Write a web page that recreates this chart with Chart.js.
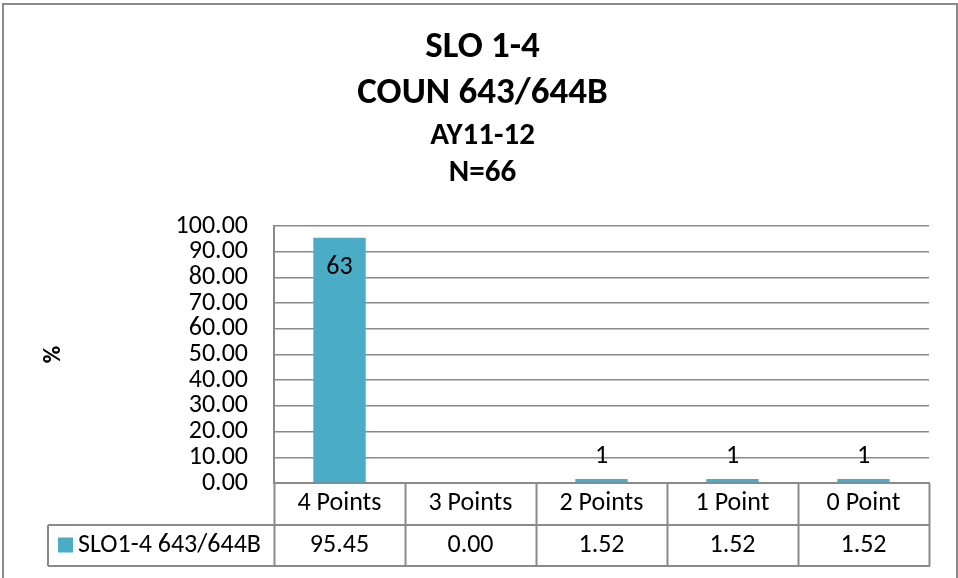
<!DOCTYPE html>
<html>
<head>
<meta charset="utf-8">
<title>SLO 1-4 COUN 643/644B</title>
<script src="https://cdn.jsdelivr.net/npm/chart.js@4.4.1/dist/chart.umd.min.js"></script>
<style>
    html, body { margin: 0; padding: 0; background: #fff; }
    canvas { display: block; }
</style>
</head>
<body>
<canvas id="sloChart" width="958" height="578"></canvas>
<script>
// chart data
const categories = ['4 Points', '3 Points', '2 Points', '1 Point', '0 Point'];
const percents = [95.45, 0.00, 1.52, 1.52, 1.52];
const counts = [63, null, 1, 1, 1];
const seriesName = 'SLO1-4 643/644B';
const titleLines = ['SLO 1-4', 'COUN 643/644B'];
const subtitleLines = ['AY11-12', 'N=66'];
const yTicks = [0, 10, 20, 30, 40, 50, 60, 70, 80, 90, 100];

const FONT = 'Carlito, Calibri, Lato, sans-serif';
const GRAY = '#8a8a8a';
const BAR = '#4bacc6';

// draws the outer frame, the data table row and the count labels
const tablePlugin = {
    id: 'dataTable',
    beforeDraw(chart) {
        const ctx = chart.ctx;
        ctx.save();
        ctx.fillStyle = '#fff';
        ctx.fillRect(0, 0, chart.width, chart.height);
        ctx.strokeStyle = GRAY;
        ctx.lineWidth = 2;
        ctx.strokeRect(3, 4, 954, 620);
        ctx.restore();
    },
    afterDraw(chart) {
        const ctx = chart.ctx;
        const x = chart.scales.x;
        const area = chart.chartArea;
        const rowTop = Math.round(x.top + x.height / 2);
        const rowBottom = Math.round(x.bottom);
        const legendLeft = 48;

        ctx.save();
        ctx.strokeStyle = GRAY;
        ctx.lineWidth = 2;
        ctx.beginPath();
        ctx.moveTo(legendLeft, rowTop);
        ctx.lineTo(x.right + 1, rowTop);
        ctx.moveTo(legendLeft, rowBottom);
        ctx.lineTo(x.right + 1, rowBottom);
        ctx.moveTo(legendLeft, rowTop);
        ctx.lineTo(legendLeft, rowBottom);
        ctx.stroke();

        const midY = (rowTop + rowBottom) / 2;
        // legend key
        ctx.fillStyle = BAR;
        ctx.fillRect(legendLeft + 10, midY - 8, 15, 15);
        ctx.fillStyle = '#000';
        ctx.font = '26px ' + FONT;
        ctx.textBaseline = 'middle';
        ctx.textAlign = 'left';
        ctx.fillText(seriesName, legendLeft + 30, midY);

        // values row
        ctx.textAlign = 'center';
        percents.forEach((v, i) => {
            ctx.fillText(v.toFixed(2), x.getPixelForValue(i), midY);
        });

        // count labels on the bars
        const meta = chart.getDatasetMeta(0);
        meta.data.forEach((bar, i) => {
            if (counts[i] === null) return;
            const inside = bar.y - area.top < 45;
            const y = inside ? bar.y + 30 : bar.y - 23;
            ctx.fillText(String(counts[i]), bar.x, y);
        });
        ctx.restore();
    }
};

const chart = new Chart(document.getElementById('sloChart'), {
    type: 'bar',
    data: {
        labels: categories,
        datasets: [{
            label: seriesName,
            data: percents,
            backgroundColor: BAR,
            barPercentage: 0.4,
            categoryPercentage: 1
        }]
    },
    options: {
        responsive: false,
        animation: false,
        events: [],
        layout: { padding: { top: 0, left: 36, right: 29, bottom: 12 } },
        plugins: {
            legend: { display: false },
            tooltip: { enabled: false },
            title: {
                display: true,
                text: titleLines,
                color: '#000',
                font: { family: FONT, size: 37, weight: 'bold', lineHeight: '46px' },
                padding: { top: 25, bottom: 0 }
            },
            subtitle: {
                display: true,
                text: subtitleLines,
                color: '#000',
                font: { family: FONT, size: 31, weight: 'bold', lineHeight: '37.5px' },
                padding: { top: 0, bottom: 34 }
            }
        },
        scales: {
            x: {
                offset: true,
                grid: {
                    offset: true,
                    drawOnChartArea: false,
                    tickLength: 83,
                    tickColor: GRAY,
                    tickWidth: 2
                },
                border: { display: true, color: GRAY, width: 2 },
                ticks: {
                    color: '#000',
                    font: { family: FONT, size: 26 },
                    padding: -78,
                    maxRotation: 0,
                    autoSkip: false
                },
                afterFit(scale) { scale.height = 83; }
            },
            y: {
                min: 0,
                max: 100,
                afterBuildTicks(scale) { scale.ticks = yTicks.map(v => ({ value: v })); },
                grid: { color: GRAY, lineWidth: 1.5, drawTicks: false },
                border: { display: true, color: GRAY, width: 2 },
                ticks: {
                    color: '#000',
                    font: { family: FONT, size: 26 },
                    padding: 26,
                    autoSkip: false,
                    callback: (v) => Number(v).toFixed(2)
                },
                title: {
                    display: true,
                    text: '%',
                    color: '#000',
                    font: { family: FONT, size: 24, weight: 'bold' }
                },
                afterFit(scale) { scale.width = 238; }
            }
        }
    },
    plugins: [tablePlugin]
});
</script>
</body>
</html>
